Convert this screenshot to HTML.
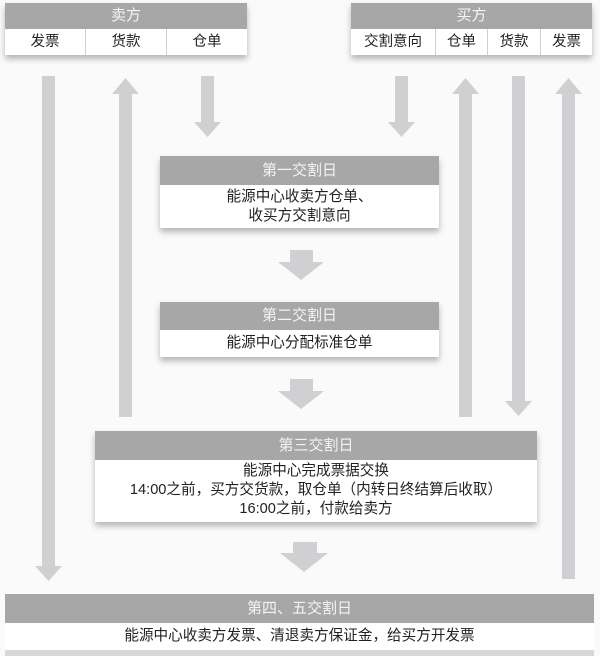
<!DOCTYPE html>
<html><head><meta charset="utf-8"><style>
body{margin:0;background:#fafafa;width:600px;height:656px;overflow:hidden;position:relative;font-family:"Liberation Sans","Noto Sans CJK SC",sans-serif;}
.box{position:absolute;background:#fff;box-shadow:0 4px 6px rgba(0,0,0,0.28);}
.hd{background:#a7a7a8;color:#f4f4f4;text-align:center;font-size:15px;}
.bd{text-align:center;font-size:14.6px;color:#222;line-height:19px;}
.row{display:flex;}
.row div{border-left:1px solid #d0d0d0;text-align:center;font-size:14.5px;color:#222;line-height:26px;}
.row div:first-child{border-left:none;}
svg{position:absolute;left:0;top:0;}
</style></head><body>
<svg width="600" height="656" fill="#d0d0d2">
<rect x="42" y="76" width="13" height="492"/><polygon points="35,566 62,566 48.5,581"/>
<rect x="119" y="92" width="13" height="325"/><polygon points="112,94 139,94 125.5,78"/>
<rect x="201" y="76" width="13" height="48"/><polygon points="194,122 221,122 207.5,137"/>
<rect x="395" y="76" width="13" height="48"/><polygon points="388,122 415,122 401.5,137"/>
<rect x="459" y="92" width="13" height="325"/><polygon points="452,94 479,94 465.5,78"/>
<rect x="512" y="76" width="13" height="326"/><polygon points="505,401 532,401 518.5,416"/>
<rect x="562" y="92" width="13" height="487"/><polygon points="555,94 582,94 568.5,78"/>
<rect x="290" y="250" width="23" height="13"/><polygon points="278,262 324,262 301,280"/>
<rect x="290" y="379" width="23" height="13"/><polygon points="278,391 324,391 301,409"/>
<rect x="293" y="542" width="24" height="12"/><polygon points="280,553 328,553 304,572"/>
</svg>

<div class="box" style="left:5px;top:3px;width:242px;">
<div class="hd" style="height:26px;line-height:26px;">卖方</div>
<div class="row"><div style="width:80px">发票</div><div style="width:80px">货款</div><div style="flex:1">仓单</div></div>
</div>
<div class="box" style="left:351px;top:3px;width:241px;">
<div class="hd" style="height:26px;line-height:26px;">买方</div>
<div class="row"><div style="width:84px">交割意向</div><div style="width:51px">仓单</div><div style="width:52px">货款</div><div style="flex:1">发票</div></div>
</div>

<div class="box" style="left:160px;top:156px;width:279px;height:72px;">
<div class="hd" style="height:29px;line-height:29px;">第一交割日</div>
<div class="bd" style="padding-top:3px;">能源中心收卖方仓单、<br>收买方交割意向</div>
</div>
<div class="box" style="left:160px;top:302px;width:279px;height:55px;">
<div class="hd" style="height:28px;line-height:28px;">第二交割日</div>
<div class="bd" style="line-height:27px;">能源中心分配标准仓单</div>
</div>
<div class="box" style="left:95px;top:431px;width:442px;height:91px;">
<div class="hd" style="height:29px;line-height:29px;">第三交割日</div>
<div class="bd" style="padding-top:2px;line-height:19px;">能源中心完成票据交换<br>14:00之前，买方交货款，取仓单（内转日终结算后收取）<br>16:00之前，付款给卖方</div>
</div>
<div class="box" style="left:5px;top:594px;width:589px;height:62px;box-shadow:none;">
<div class="hd" style="height:29px;line-height:29px;">第四、五交割日</div>
<div class="bd" style="line-height:27px;">能源中心收卖方发票、清退卖方保证金，给买方开发票</div>
<div style="background:#d8d8d8;height:6px;"></div>
</div>
</body></html>
